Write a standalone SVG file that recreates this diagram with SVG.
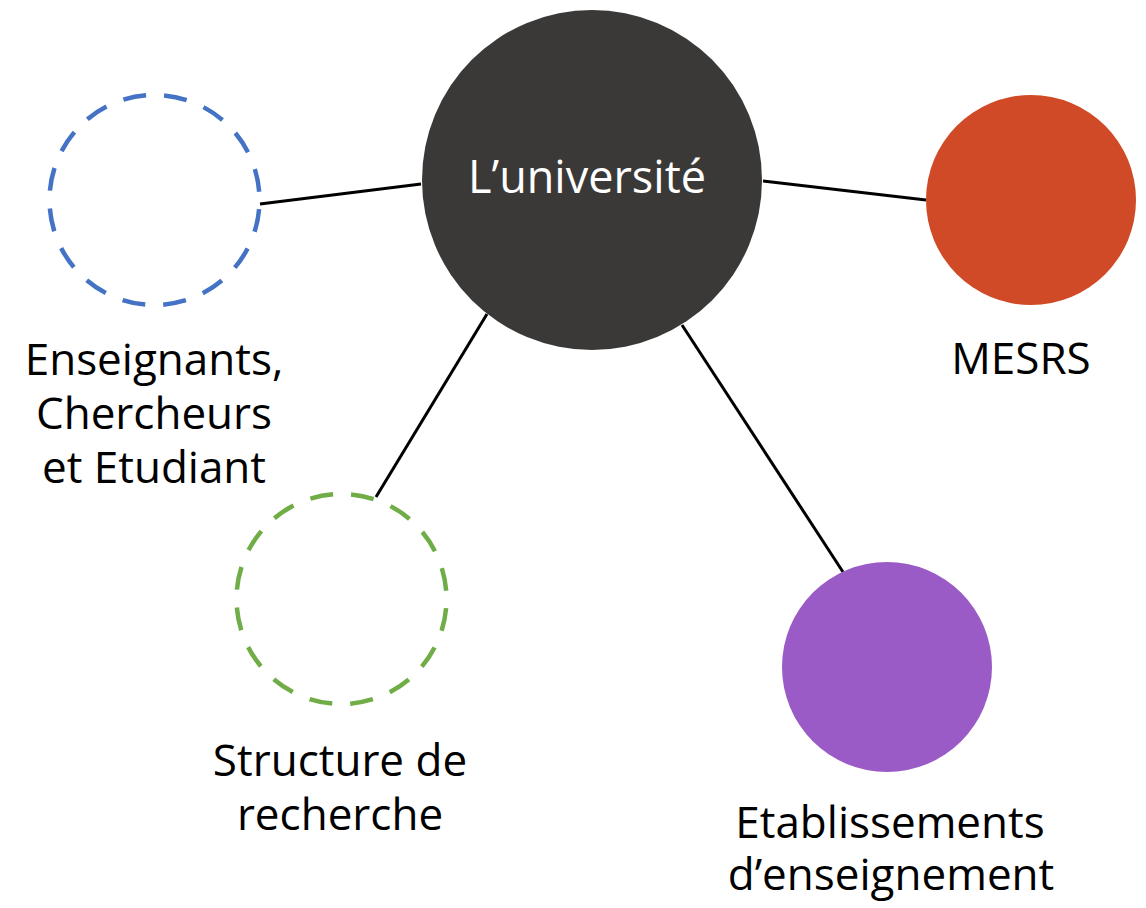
<svg xmlns="http://www.w3.org/2000/svg" width="1146" height="908" viewBox="0 0 1146 908">
<style>
.lbl{font-family:"Open Sans","Noto Sans","Liberation Sans",sans-serif;font-size:44px;fill:#000;text-anchor:middle}
.conn{stroke:#000;stroke-width:3;fill:none}
.dash{fill:none;stroke-width:4.5;stroke-dasharray:23 18.23;stroke-dashoffset:32}
</style>
<rect width="1146" height="908" fill="#fff"/>
<g id="connectors">
<line class="conn" x1="260" y1="204" x2="421" y2="184"/>
<line class="conn" x1="763" y1="181" x2="926" y2="200"/>
<line class="conn" x1="487" y1="314" x2="376" y2="497"/>
<line class="conn" x1="682" y1="325" x2="843" y2="572"/>
</g>
<g id="universite">
<circle cx="592" cy="180" r="170" fill="#3a3938"/>
<text class="lbl" x="587" y="193" style="fill:#fff;font-size:45px">L’université</text>
</g>
<g id="enseignants">
<circle class="dash" cx="154.5" cy="200" r="105" stroke="#4472c4"/>
<text class="lbl" x="154" y="375">Enseignants,</text>
<text class="lbl" x="154" y="429">Chercheurs</text>
<text class="lbl" x="154" y="483">et Etudiant</text>
</g>
<g id="mesrs">
<circle cx="1031" cy="200" r="105" fill="#d04a27"/>
<text class="lbl" x="1021" y="374">MESRS</text>
</g>
<g id="structure">
<circle class="dash" cx="341.5" cy="599" r="105" stroke="#70ad47"/>
<text class="lbl" x="340" y="776">Structure de</text>
<text class="lbl" x="340" y="830">recherche</text>
</g>
<g id="etablissements">
<circle cx="887" cy="667" r="105" fill="#9b5bc6"/>
<text class="lbl" x="890" y="838">Etablissements</text>
<text class="lbl" x="891" y="890">d’enseignement</text>
</g>
</svg>
